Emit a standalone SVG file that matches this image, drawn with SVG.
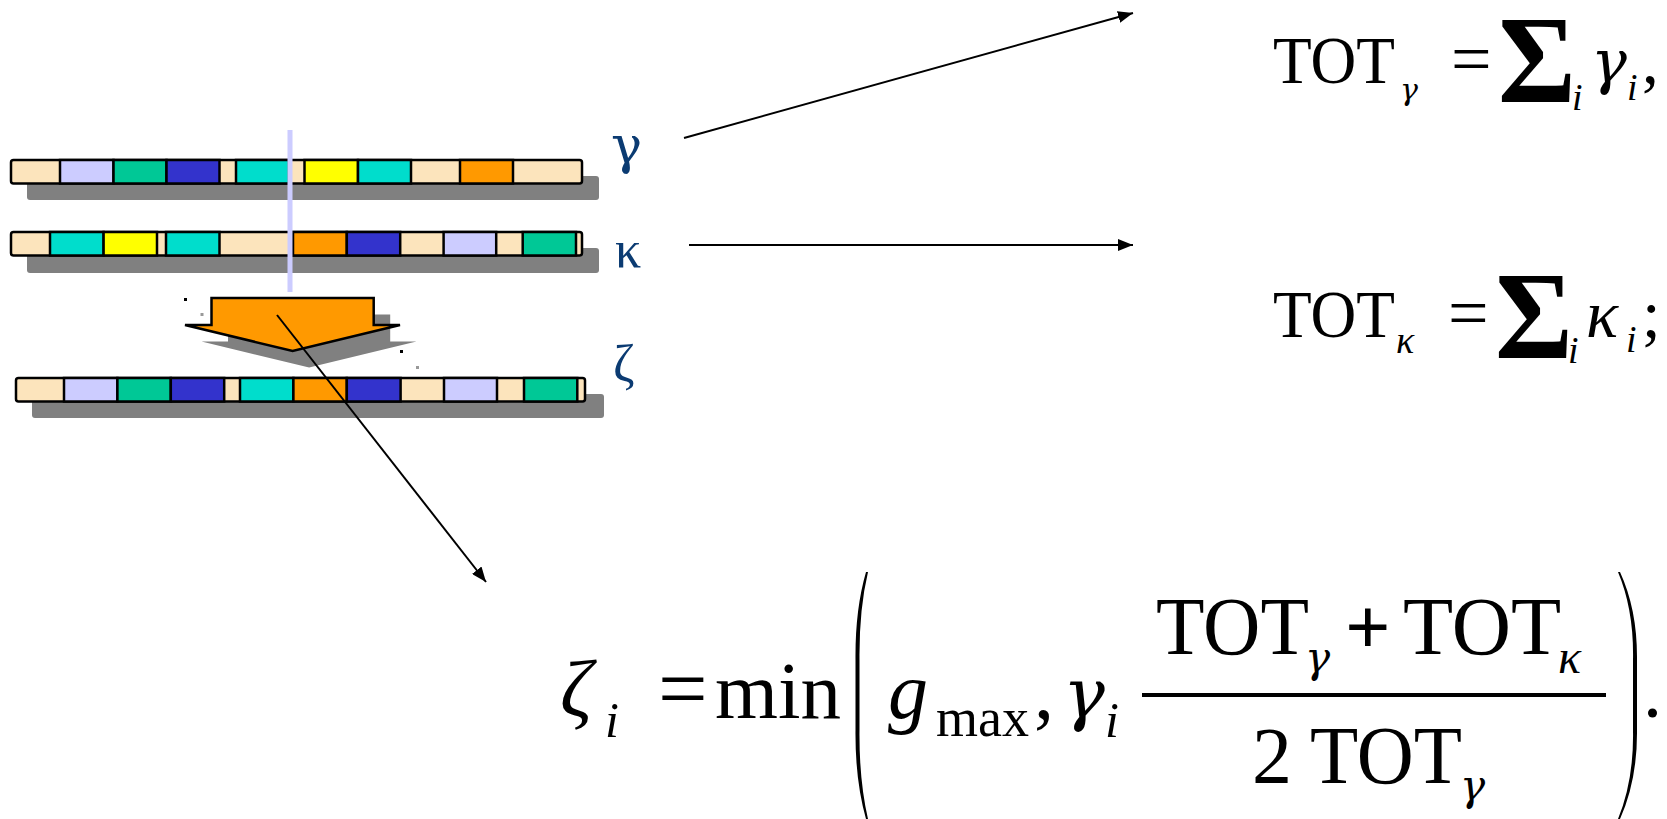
<svg xmlns="http://www.w3.org/2000/svg" width="1667" height="819" viewBox="0 0 1667 819">
<defs>
<style>
.bg{fill:#FCE4BC;stroke:#000;stroke-width:2.5}
.sh{fill:#808080}
.blk{stroke:#000;stroke-width:2.5}
.lav{fill:#CCCCFF}.grn{fill:#00C896}.blu{fill:#3333CC}.cyn{fill:#00DDCC}.yel{fill:#FFFF00}.org{fill:#FF9900}
.lbl{font-family:"Liberation Serif",serif;font-size:52px;fill:#0B3B72}
.gk{font-family:"DejaVu Serif","Liberation Serif",serif}
.m{font-family:"Liberation Serif",serif;fill:#000}
.it{font-style:italic}
.conn{stroke:#000;stroke-width:2;fill:none}
</style>
<marker id="ah" markerUnits="userSpaceOnUse" markerWidth="16" markerHeight="12" refX="15" refY="6" orient="auto">
<path d="M0,0 L15,6 L0,12 z" fill="#000"/>
</marker>
</defs>
<rect width="1667" height="819" fill="#fff"/>

<g id="chrom-gamma">
<rect class="sh" x="27" y="176" width="572" height="24" rx="3"/>
<rect class="bg" x="11" y="160" width="571" height="23.5" rx="2.5"/>
<rect class="blk lav" x="60" y="160" width="53.5" height="23.5"/>
<rect class="blk grn" x="113.5" y="160" width="53" height="23.5"/>
<rect class="blk blu" x="166.5" y="160" width="53" height="23.5"/>
<rect class="blk cyn" x="236" y="160" width="53" height="23.5"/>
<rect class="blk yel" x="304.5" y="160" width="53.5" height="23.5"/>
<rect class="blk cyn" x="358" y="160" width="53" height="23.5"/>
<rect class="blk org" x="460" y="160" width="53" height="23.5"/>
<text class="lbl gk" x="611" y="163" font-size="46">γ</text>
</g>

<g id="chrom-kappa">
<rect class="sh" x="27" y="248" width="572" height="25" rx="3"/>
<rect class="bg" x="11" y="232" width="571" height="23.5" rx="2.5"/>
<rect class="blk cyn" x="50" y="232" width="53.6" height="23.5"/>
<rect class="blk yel" x="103.6" y="232" width="53.4" height="23.5"/>
<rect class="blk cyn" x="166" y="232" width="53.5" height="23.5"/>
<rect class="blk org" x="293" y="232" width="53.8" height="23.5"/>
<rect class="blk blu" x="346.8" y="232" width="53.4" height="23.5"/>
<rect class="blk lav" x="443.6" y="232" width="52.6" height="23.5"/>
<rect class="blk grn" x="522.7" y="232" width="53.3" height="23.5"/>
<text class="lbl" x="615" y="267">κ</text>
</g>

<g id="crossover-line">
<rect x="287.5" y="130" width="5" height="162" fill="#CCCCFF"/>
</g>

<g id="merge-arrow">
<polygon points="228,314.5 390.2,314.5 390.2,341.5 416.5,341.5 309.1,367.5 201.5,341.5 228,341.5" fill="#808080"/>
<polygon points="211.5,298 373.7,298 373.7,325 400,325 292.6,351 185,325 211.5,325" fill="#FF9900" stroke="#000" stroke-width="2.5" stroke-linejoin="miter"/>
<rect x="184" y="298" width="3" height="3" fill="#000"/>
<rect x="200.5" y="313" width="3" height="3" fill="#999"/>
<rect x="400" y="350" width="3" height="3" fill="#000"/>
<rect x="416" y="366" width="3" height="3" fill="#999"/>
</g>

<g id="chrom-zeta">
<rect class="sh" x="32" y="394" width="572" height="24" rx="3"/>
<rect class="bg" x="16" y="378" width="569" height="23.5" rx="2.5"/>
<rect class="blk lav" x="64" y="378" width="53.4" height="23.5"/>
<rect class="blk grn" x="117.4" y="378" width="53.4" height="23.5"/>
<rect class="blk blu" x="170.8" y="378" width="53.4" height="23.5"/>
<rect class="blk cyn" x="240" y="378" width="53.4" height="23.5"/>
<rect class="blk org" x="293.4" y="378" width="53.4" height="23.5"/>
<rect class="blk blu" x="346.8" y="378" width="53.8" height="23.5"/>
<rect class="blk lav" x="444" y="378" width="53" height="23.5"/>
<rect class="blk grn" x="524" y="378" width="53.3" height="23.5"/>
<text class="lbl" x="613" y="381">ζ</text>
</g>

<g id="connectors">
<line class="conn" x1="684" y1="138" x2="1133" y2="13" marker-end="url(#ah)"/>
<line class="conn" x1="689" y1="245" x2="1133" y2="245" marker-end="url(#ah)"/>
<line class="conn" x1="277" y1="315" x2="486" y2="582" marker-end="url(#ah)"/>
</g>

<g id="formula-tot-gamma" class="m">
<text x="1273" y="83" font-size="67" textLength="122" lengthAdjust="spacingAndGlyphs">TOT</text>
<text class="it gk" x="1400" y="100" font-size="30">γ</text>
<text x="1451" y="83" font-size="72">=</text>
<text transform="translate(1498,102) scale(1,1.05)" font-size="119" font-weight="bold">Σ</text>
<text class="it" x="1572" y="110" font-size="38">i</text>
<text class="it gk" x="1591" y="83" font-size="60">γ</text>
<text class="it" x="1627" y="100" font-size="38">i</text>
<text x="1642" y="83" font-size="67">,</text>
</g>

<g id="formula-tot-kappa" class="m">
<text x="1273" y="337" font-size="67" textLength="122" lengthAdjust="spacingAndGlyphs">TOT</text>
<text class="it" x="1396" y="353" font-size="38">κ</text>
<text x="1448" y="337" font-size="72">=</text>
<text transform="translate(1495,358) scale(1,1.05)" font-size="119" font-weight="bold">Σ</text>
<text class="it" x="1568" y="363" font-size="38">i</text>
<text class="it" x="1586" y="337" font-size="67">κ</text>
<text class="it" x="1626" y="352" font-size="38">i</text>
<text x="1642" y="337" font-size="67">;</text>
</g>

<g id="formula-zeta" class="m">
<text class="it" x="560" y="716" font-size="80">ζ</text>
<text class="it" x="605" y="737" font-size="50">i</text>
<text x="658" y="718" font-size="88">=</text>
<text x="715" y="718" font-size="81">min</text>
<path d="M866,572 Q855,610 855.5,660 L855.5,730 Q855,780 866,819 L868,819 Q859,780 859.5,730 L859.5,660 Q859,610 868,572 Z" fill="#000"/>
<text class="it" x="888" y="718" font-size="80">g</text>
<text x="936" y="736" font-size="54">max</text>
<text x="1034" y="718" font-size="80">,</text>
<text class="it gk" x="1063" y="718" font-size="70">γ</text>
<text class="it" x="1105" y="737" font-size="50">i</text>
<rect x="1142" y="693" width="464" height="4" fill="#000"/>
<text x="1156" y="654" font-size="82" textLength="153" lengthAdjust="spacingAndGlyphs">TOT</text>
<text class="it gk" x="1305" y="672" font-size="42">γ</text>
<text x="1345" y="654" font-size="80" font-weight="bold">+</text>
<text x="1403" y="654" font-size="82" textLength="158" lengthAdjust="spacingAndGlyphs">TOT</text>
<text class="it" x="1558" y="673" font-size="48">κ</text>
<text x="1252" y="783" font-size="80">2</text>
<text x="1310" y="783" font-size="82" textLength="152" lengthAdjust="spacingAndGlyphs">TOT</text>
<text class="it gk" x="1460" y="800" font-size="42">γ</text>
<path d="M1618,572 Q1634,610 1633,660 L1633,730 Q1634,780 1618,819 L1620,819 Q1637.5,780 1637,730 L1637,660 Q1637.5,610 1620,572 Z" fill="#000"/>
<circle cx="1652.5" cy="713" r="4.5" fill="#000"/>
</g>
</svg>
